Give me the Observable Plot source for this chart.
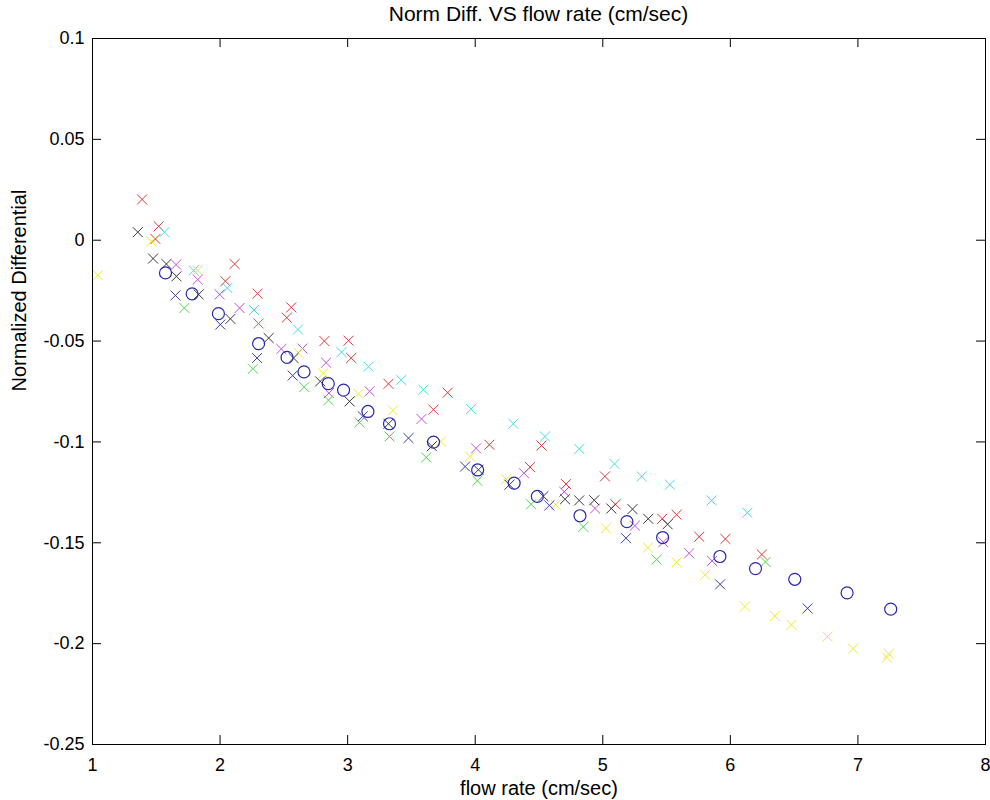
<!DOCTYPE html>
<html><head><meta charset="utf-8">
<script src="https://cdn.jsdelivr.net/npm/d3@7"></script>
<script src="https://cdn.jsdelivr.net/npm/@observablehq/plot@0.6"></script>
<style>
body{margin:0;background:#fff;font-family:"Liberation Sans",Arial,Helvetica,sans-serif;}
#title{height:26px;width:990px;padding-left:92px;padding-right:5px;box-sizing:border-box;text-align:center;font-size:21px;line-height:28px;color:#000;}
svg{display:block;}
</style></head><body>
<div id="title">Norm Diff. VS flow rate (cm/sec)</div>
<div id="chart"></div>
<script>
const xTicks = [1, 2, 3, 4, 5, 6, 7, 8];
const yTicks = [0.1, 0.05, 0, -0.05, -0.1, -0.15, -0.2, -0.25];

const redX = [1.389,1.519,1.493,2.114,2.042,2.294,2.558,2.523,2.818,3.007,3.028,3.320,3.784,3.673,4.111,4.520,4.430,4.712,5.017,5.099,5.466,5.579,5.756,5.961,6.247];
const redY = [0.0202,0.0069,0.0006,-0.0118,-0.0203,-0.0265,-0.0333,-0.0384,-0.0500,-0.0498,-0.0584,-0.0712,-0.0756,-0.0840,-0.1014,-0.1018,-0.1125,-0.1209,-0.1171,-0.1309,-0.1381,-0.1361,-0.1470,-0.1481,-0.1558];

const cyanX = [1.564,1.793,2.057,2.266,2.611,2.952,3.164,3.420,3.594,3.968,4.299,4.547,4.816,5.092,5.305,5.526,5.853,6.133];
const cyanY = [0.0040,-0.0150,-0.0237,-0.0346,-0.0443,-0.0555,-0.0627,-0.0693,-0.0741,-0.0837,-0.0910,-0.0973,-0.1035,-0.1109,-0.1171,-0.1212,-0.1290,-0.1351];

const magentaX = [1.655,1.825,1.997,2.153,2.302,2.480,2.646,2.831,2.853,3.172,3.579,4.007,4.383,4.698,4.939,5.252,5.474,5.677,5.857];
const magentaY = [-0.0121,-0.0195,-0.0269,-0.0336,-0.0413,-0.0539,-0.0537,-0.0607,-0.0758,-0.0749,-0.0886,-0.1032,-0.1155,-0.1247,-0.1330,-0.1415,-0.1497,-0.1552,-0.1590];

const yellowX = [1.042,1.462,1.825,2.615,2.809,3.085,3.355,3.731,3.960,4.242,4.630,5.025,5.354,5.579,5.803,6.114,6.349,6.479,6.761,6.962,7.241,7.228];
const yellowY = [-0.0174,-0.0005,-0.0150,-0.0559,-0.0660,-0.0762,-0.0844,-0.0998,-0.1072,-0.1185,-0.1312,-0.1428,-0.1524,-0.1597,-0.1659,-0.1816,-0.1863,-0.1907,-0.1965,-0.2025,-0.2050,-0.2069];

const greenX = [1.720,2.258,2.660,2.850,3.093,3.328,3.616,4.017,4.438,4.847,5.422,6.276];
const greenY = [-0.0336,-0.0637,-0.0728,-0.0793,-0.0903,-0.0973,-0.1077,-0.1193,-0.1309,-0.1421,-0.1583,-0.1595];

const blackX = [1.355,1.475,1.579,1.658,1.832,2.081,2.381,2.576,2.785,3.015,3.320,3.660,4.025,4.268,4.534,4.704,4.815,4.933,5.067,5.233,5.356,5.508];
const blackY = [0.0040,-0.0091,-0.0118,-0.0179,-0.0269,-0.0390,-0.0485,-0.0584,-0.0700,-0.0799,-0.0910,-0.1021,-0.1138,-0.1212,-0.1269,-0.1284,-0.1290,-0.1289,-0.1330,-0.1333,-0.1381,-0.1408];

const blueX = [1.650,2.002,2.290,2.569,3.119,3.477,3.921,4.581,5.182,5.920,6.605];
const blueY = [-0.0274,-0.0418,-0.0584,-0.0671,-0.0873,-0.0981,-0.1122,-0.1315,-0.1477,-0.1706,-0.1825];

const circleX = [1.572,1.781,1.987,2.302,2.525,2.658,2.848,2.968,3.159,3.328,3.673,4.019,4.305,4.487,4.821,5.189,5.469,5.918,6.197,6.505,6.915,7.257];
const circleY = [-0.0162,-0.0266,-0.0364,-0.0513,-0.0581,-0.0653,-0.0711,-0.0743,-0.0849,-0.0910,-0.1001,-0.1139,-0.1204,-0.1270,-0.1366,-0.1395,-0.1474,-0.1568,-0.1628,-0.1681,-0.1748,-0.1829];

const crossSeries = [
  {xs: redX, ys: redY, color: "#d83a3a"},
  {xs: cyanX, ys: cyanY, color: "#3fdfe6"},
  {xs: magentaX, ys: magentaY, color: "#c84ed8"},
  {xs: yellowX, ys: yellowY, color: "#ecec2a"},
  {xs: greenX, ys: greenY, color: "#4cd64c"},
  {xs: blackX, ys: blackY, color: "#3a3a3a"},
  {xs: blueX, ys: blueY, color: "#3c3ca8"}
];
const toRows = (xs, ys) => xs.map((x, i) => ({x, y: ys[i]}));

const W = 990, H = 774, mT = 12, mB = 56, mL = 92, mR = 5;
const plotW = W - mL - mR, plotH = H - mT - mB, tick = 9;
const font = "'Liberation Sans', Arial, Helvetica, sans-serif";

const chart = Plot.plot({
  width: W, height: H,
  marginTop: mT, marginBottom: mB, marginLeft: mL, marginRight: mR,
  style: {fontFamily: font, background: "#fff", color: "#000"},
  x: {domain: [1, 8], ticks: xTicks, label: null},
  y: {domain: [-0.25, 0.1], ticks: yTicks, label: null},
  marks: [
    ...crossSeries.map(s => Plot.dot(toRows(s.xs, s.ys), {x: "x", y: "y", symbol: "times", r: 4.6, stroke: s.color, strokeWidth: 1})),
    Plot.dot(toRows(circleX, circleY), {x: "x", y: "y", symbol: "circle", r: 6, stroke: "#2828b0", strokeWidth: 1.2, fill: "none"}),
    Plot.frame({stroke: "#000", strokeWidth: 1}),
    Plot.tickX(xTicks, {x: d => d, insetTop: plotH - tick, stroke: "#000"}),
    Plot.tickX(xTicks, {x: d => d, insetBottom: plotH - tick, stroke: "#000"}),
    Plot.tickY(yTicks, {y: d => d, insetRight: plotW - tick, stroke: "#000"}),
    Plot.tickY(yTicks, {y: d => d, insetLeft: plotW - tick, stroke: "#000"}),
    Plot.axisX(xTicks, {tickSize: 0, tickPadding: 14, fontSize: 18, tickFormat: d => String(d), label: null}),
    Plot.axisY(yTicks, {tickSize: 0, tickPadding: 8, fontSize: 18, tickFormat: d => String(d), label: null}),
    Plot.text(["flow rate (cm/sec)"], {frameAnchor: "bottom", dy: 44, fontSize: 20, lineAnchor: "middle", fill: "#000"}),
    Plot.text(["Normalized Differential"], {frameAnchor: "left", dx: -73, rotate: -90, fontSize: 20, lineAnchor: "middle", fill: "#000"})
  ]
});
document.getElementById("chart").appendChild(chart);
</script>
</body></html>
